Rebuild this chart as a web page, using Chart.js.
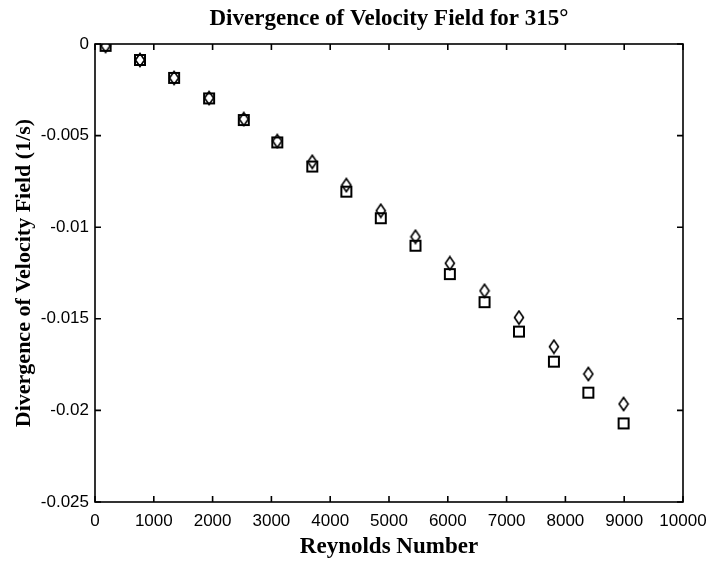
<!DOCTYPE html>
<html>
<head>
<meta charset="utf-8">
<script src="https://cdn.jsdelivr.net/npm/chart.js@4"></script>
<style>
  html, body { margin: 0; padding: 0; background: #fff; }
  #wrap { width: 706px; height: 562px; }
</style>
</head>
<body>
<div id="wrap"><canvas id="divChart" width="706" height="562"></canvas></div>
<script>
// Reynolds numbers (x) and divergence values (y)
const reynolds = [180, 765, 1345, 1940, 2530, 3100, 3695, 4275, 4860, 5450, 6035, 6625, 7210, 7805, 8390, 8990];
const divSquares = [-0.0001, -0.00087, -0.00185, -0.00297, -0.00415, -0.00537, -0.00669, -0.00806,
                    -0.00951, -0.01101, -0.01256, -0.01409, -0.0157, -0.01734, -0.01903, -0.02071];
const divDiamonds = [-0.0001, -0.00087, -0.00185, -0.00295, -0.0041, -0.0053, -0.00643, -0.0077,
                     -0.0091, -0.01052, -0.01197, -0.01347, -0.01493, -0.01652, -0.01801, -0.01965];
const xTicks = [0, 1000, 2000, 3000, 4000, 5000, 6000, 7000, 8000, 9000, 10000];
const yTicks = [0, -0.005, -0.01, -0.015, -0.02, -0.025];

const ink = '#000';
const serif = "'Liberation Serif', 'DejaVu Serif', serif";
const sans = "'Liberation Sans', Arial, sans-serif";

// marker images (hollow square / narrow diamond)
function squareMarker() {
    const c = document.createElement('canvas');
    c.width = 14; c.height = 14;
    const g = c.getContext('2d');
    g.strokeStyle = ink;
    g.lineWidth = 2;
    g.strokeRect(2, 2, 10, 10);
    return c;
}
function diamondMarker() {
    const c = document.createElement('canvas');
    c.width = 12; c.height = 16;
    const g = c.getContext('2d');
    g.strokeStyle = ink;
    g.lineWidth = 1.6;
    g.beginPath();
    g.moveTo(6, 1.5); g.lineTo(10.5, 8); g.lineTo(6, 14.5); g.lineTo(1.5, 8);
    g.closePath();
    g.stroke();
    return c;
}

// MATLAB style box with inward ticks
const boxTicks = {
    id: 'boxTicks',
    afterDraw(chart) {
        const { ctx, chartArea: a, scales } = chart;
        ctx.save();
        ctx.strokeStyle = ink;
        ctx.lineWidth = 1.6;
        ctx.strokeRect(a.left, a.top, a.right - a.left, a.bottom - a.top);
        ctx.beginPath();
        const len = 6;
        xTicks.forEach(v => {
            const px = scales.x.getPixelForValue(v);
            ctx.moveTo(px, a.bottom); ctx.lineTo(px, a.bottom - len);
            ctx.moveTo(px, a.top); ctx.lineTo(px, a.top + len);
        });
        yTicks.forEach(v => {
            const py = scales.y.getPixelForValue(v);
            ctx.moveTo(a.left, py); ctx.lineTo(a.left + len, py);
            ctx.moveTo(a.right, py); ctx.lineTo(a.right - len, py);
        });
        ctx.stroke();
        ctx.restore();
    }
};

const ctx = document.getElementById('divChart').getContext('2d');
new Chart(ctx, {
    type: 'scatter',
    data: {
        datasets: [{
            label: 'Square',
            data: reynolds.map((r, i) => ({ x: r, y: divSquares[i] })),
            pointStyle: squareMarker(),
            pointRadius: 7
        }, {
            label: 'Diamond',
            data: reynolds.map((r, i) => ({ x: r, y: divDiamonds[i] })),
            pointStyle: diamondMarker(),
            pointRadius: 7
        }]
    },
    plugins: [boxTicks],
    options: {
        responsive: false,
        animation: false,
        layout: { padding: { left: 0, right: 23, top: 0, bottom: 0 } },
        plugins: {
            legend: { display: false },
            tooltip: { enabled: false },
            title: {
                display: true,
                fullSize: false,
                text: 'Divergence of Velocity Field for 315°',
                color: ink,
                font: { family: serif, size: 23, weight: 'bold' },
                padding: { top: 5, bottom: 11.4 }
            }
        },
        scales: {
            x: {
                type: 'linear',
                min: 0,
                max: 10000,
                afterBuildTicks: s => { s.ticks = xTicks.map(v => ({ value: v })); },
                afterFit: s => { s.height = 60; s.paddingLeft = 0; s.paddingRight = 0; },
                grid: { display: false, drawTicks: false },
                border: { display: false },
                ticks: {
                    color: ink,
                    padding: 9,
                    maxRotation: 0,
                    font: { family: sans, size: 17 },
                    callback: v => String(v)
                },
                title: {
                    display: true,
                    text: 'Reynolds Number',
                    color: ink,
                    font: { family: serif, size: 23, weight: 'bold' },
                    padding: { top: 0, bottom: 1 }
                }
            },
            y: {
                type: 'linear',
                min: -0.025,
                max: 0,
                afterBuildTicks: s => { s.ticks = yTicks.map(v => ({ value: v })); },
                afterFit: s => { s.width = 95; },
                grid: { display: false, drawTicks: false },
                border: { display: false },
                ticks: {
                    color: ink,
                    padding: 6,
                    font: { family: sans, size: 17 },
                    callback: v => v === 0 ? '0' : String(+v.toFixed(3))
                },
                title: {
                    display: true,
                    text: 'Divergence of Velocity Field (1/s)',
                    color: ink,
                    font: { family: serif, size: 22, weight: 'bold' },
                    padding: { top: 11, bottom: 0 }
                }
            }
        }
    }
});
</script>
</body>
</html>
